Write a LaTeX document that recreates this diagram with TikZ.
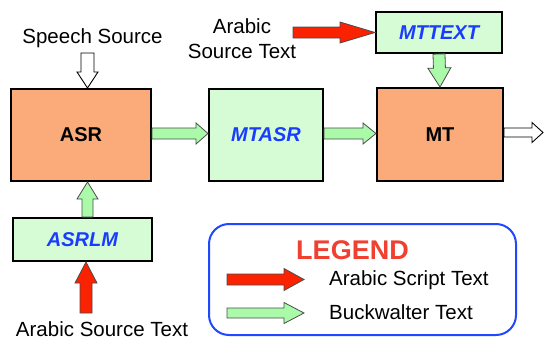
\documentclass[tikz,border=0pt]{standalone}
\usepackage{fontspec}
\setmainfont{Liberation Sans}
\usetikzlibrary{calc}
\definecolor{boxorange}{RGB}{251,170,122}
\definecolor{boxgreen}{RGB}{214,252,214}
\definecolor{arrgreen}{RGB}{170,250,170}
\definecolor{arrred}{RGB}{250,34,0}
\definecolor{txtblue}{RGB}{26,60,255}
\definecolor{legblue}{RGB}{32,72,255}
\definecolor{legred}{RGB}{240,64,48}
\newcommand{\blockarr}[6]{%
  \coordinate (ba-hb) at ($(#2)!#5!(#1)$);
  \draw[#6] ($(#1)!#3!90:(#2)$) -- ($(ba-hb)!#3!90:(#2)$) -- ($(ba-hb)!#4!90:(#2)$) -- (#2)
    -- ($(ba-hb)!#4!-90:(#2)$) -- ($(ba-hb)!#3!-90:(#2)$) -- ($(#1)!#3!-90:(#2)$) -- cycle;}
\tikzset{
  every node/.style={font=\fontsize{20.5}{25}\selectfont},
  proc/.style={draw=black, line width=2pt, fill=boxorange, inner sep=0pt, font=\fontsize{20}{23}\selectfont\bfseries},
  data/.style={draw=black, line width=2pt, fill=boxgreen, inner sep=0pt, text=txtblue, font=\fontsize{20}{23}\selectfont\bfseries\itshape},
  greenarr/.style={fill=arrgreen, draw=black!70, line width=0.8pt},
  redarr/.style={fill=arrred, draw=black!70, line width=0.8pt},
  openarr/.style={fill=white, draw=black, line width=0.9pt},
  lbl/.style={inner sep=0pt, align=center}
}
\begin{document}
\begin{tikzpicture}[x=1pt,y=-1pt]
\useasboundingbox (0,0) rectangle (544,340);
% boxes
\node[proc, minimum width=140pt, minimum height=92pt] (asr) at (81,135) {ASR};
\node[data, minimum width=114pt, minimum height=92pt] (mtasr) at (266,135) {MTASR};
\node[proc, minimum width=126pt, minimum height=93pt] (mt) at (440,134.5) {MT};
\node[data, minimum width=126pt, minimum height=41pt] (mttext) at (439,32.5) {MTTEXT};
\node[data, minimum width=139pt, minimum height=43pt] (asrlm) at (82.5,239.5) {ASRLM};
% legend box
\node[draw=legblue, line width=2pt, rounded corners=20pt, minimum width=307pt, minimum height=111pt, inner sep=0pt] (legend) at (362.5,279.5) {};
% labels
\node[lbl] (speech) at (92.5,38) {Speech Source};
\node[lbl] (arabtop) at (242,38.5) {Arabic\\Source Text};
\node[lbl] (arabbot) at (102,329.5) {Arabic Source Text};
\node[lbl, text=legred, font=\fontsize{27}{30}\selectfont\bfseries] (legtitle) at (352.5,250) {LEGEND};
\node[lbl, anchor=west] (legred) at (329,280) {Arabic Script Text};
\node[lbl, anchor=west] (leggreen) at (329,312) {Buckwalter Text};
% free ends
\coordinate (sp) at (87.5,53);
\coordinate (outend) at (543,132.5);
\coordinate (rt) at (293,32.5);
\coordinate (rb) at (86,313);
\coordinate (lr1) at (227,279.5);
\coordinate (lr2) at (304,279.5);
\coordinate (lg1) at (227,313);
\coordinate (lg2) at (304,313);
% arrows
\blockarr{sp}{sp |- asr.north}{6.5pt}{10.5pt}{16pt}{openarr}
\blockarr{asr.east |- 0,133.5}{mtasr.west |- 0,133.5}{5.5pt}{10.5pt}{12pt}{greenarr}
\blockarr{mtasr.east |- 0,133.5}{mt.west |- 0,133.5}{5.5pt}{10.5pt}{13pt}{greenarr}
\blockarr{mttext.south}{mt.north}{6pt}{11.5pt}{19pt}{greenarr}
\blockarr{mt.east |- outend}{outend}{4.5pt}{10pt}{11pt}{openarr}
\blockarr{rt}{mttext.west}{5.5pt}{10.5pt}{35pt}{redarr}
\blockarr{asrlm.north -| sp}{asr.south -| sp}{5.5pt}{10.5pt}{17pt}{greenarr}
\blockarr{rb}{rb |- asrlm.south}{6pt}{11pt}{21pt}{redarr}
\blockarr{lr1}{lr2}{5.5pt}{11pt}{20pt}{redarr}
\blockarr{lg1}{lg2}{5pt}{10.5pt}{20pt}{greenarr}
\end{tikzpicture}
\end{document}
